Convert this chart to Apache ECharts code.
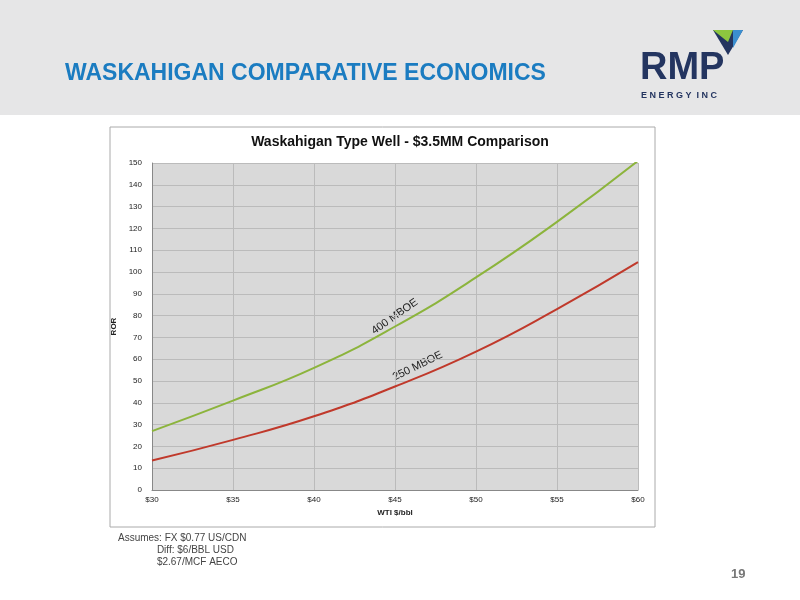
<!DOCTYPE html><html><head><meta charset="utf-8"><script src="https://cdn.jsdelivr.net/npm/echarts@6/dist/echarts.min.js"></script>
<style>body{margin:0}#c{width:800px;height:600px}</style></head><body><div id="c"></div><script>
const wti=[30,35,40,45,50,55,60];
const ror400=[27,41,56,75,97.5,123,151];
const ror250=[13.5,23,33.8,47.5,63.5,83,104.5];
const xTicks=['$30','$35','$40','$45','$50','$55','$60'];
const c=echarts.init(document.getElementById('c'));
const F='Liberation Sans, Arial, sans-serif';
c.setOption({animation:false,backgroundColor:'#fff',
graphic:[
{type:'rect',shape:{x:0,y:0,width:800,height:115},style:{fill:'#e6e6e7'},z:-10},
{type:'text',left:65,top:62,style:{text:'WASKAHIGAN COMPARATIVE ECONOMICS',fill:'#1b7cc1',font:'bold 23px '+F}},
{type:'text',left:640,top:50,style:{text:'RMP',fill:'#243560',font:'bold 38px '+F}},
{type:'text',left:641,top:91,style:{text:'E N E R G Y  I N C',fill:'#243560',font:'bold 9px '+F}},
{type:'polygon',shape:{points:[[713,30],[743,30],[728,55]]},style:{fill:'#243560'}},
{type:'polygon',shape:{points:[[713,30],[733,30],[728,42]]},style:{fill:'#8dc63f'}},
{type:'polygon',shape:{points:[[733,30],[743,30],[733,48]]},style:{fill:'#3a8ed0'}},
{type:'rect',shape:{x:110,y:127,width:545,height:400},style:{fill:'none',stroke:'#aaa',lineWidth:1},z:-5},
{type:'text',left:118,top:532,style:{text:'Assumes: FX $0.77 US/CDN\n              Diff: $6/BBL USD\n              $2.67/MCF AECO',fill:'#444',font:'10px '+F,lineHeight:12}},
{type:'text',left:731,top:568,style:{text:'19',fill:'#777',font:'bold 13px '+F}},
{type:'text',x:398,y:321,rotation:35*Math.PI/180,style:{text:'400 MBOE',fill:'#222',font:'11px '+F,align:'center',verticalAlign:'bottom'}},
{type:'text',x:420,y:371,rotation:26*Math.PI/180,style:{text:'250 MBOE',fill:'#222',font:'11px '+F,align:'center',verticalAlign:'bottom'}}
],
title:{text:'Waskahigan Type Well - $3.5MM Comparison',left:'center',top:135,textStyle:{fontFamily:F,fontSize:14,fontWeight:'bold',color:'#111'},padding:0,itemGap:0},
grid:{left:152,right:162,top:163,bottom:110,show:true,backgroundColor:'#d9d9d9',borderWidth:0},
xAxis:{type:'value',min:30,max:60,interval:5,name:'WTI $/bbl',nameLocation:'middle',nameGap:18,nameTextStyle:{fontFamily:F,fontSize:8,fontWeight:'bold',color:'#222'},
axisLabel:{formatter:v=>xTicks[(v-30)/5],fontSize:8,color:'#222',fontFamily:F,margin:6},axisLine:{lineStyle:{color:'#888'}},axisTick:{show:false},splitLine:{lineStyle:{color:'#bbb'}}},
yAxis:{type:'value',min:0,max:150,interval:10,name:'ROR',nameLocation:'middle',nameGap:25,nameTextStyle:{fontFamily:F,fontSize:8,fontWeight:'bold',color:'#222'},
axisLabel:{fontSize:8,color:'#222',fontFamily:F,margin:10},axisLine:{show:true,lineStyle:{color:'#888'}},axisTick:{show:false},splitLine:{lineStyle:{color:'#bbb'}}},
series:[
{type:'line',smooth:true,symbol:'none',data:wti.map((x,i)=>[x,ror400[i]]),lineStyle:{color:'#8cb43c',width:2}},
{type:'line',smooth:true,symbol:'none',data:wti.map((x,i)=>[x,ror250[i]]),lineStyle:{color:'#c0392b',width:2}}
]});
</script></body></html>
